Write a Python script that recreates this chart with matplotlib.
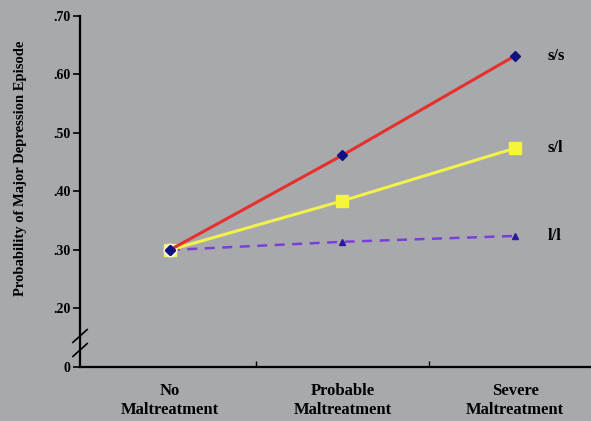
import matplotlib
matplotlib.use("Agg")
import matplotlib.pyplot as plt

categories = ["No\nMaltreatment", "Probable\nMaltreatment", "Severe\nMaltreatment"]
series_names = ["s/s", "s/l", "l/l"]
ss_values = [0.30, 0.462, 0.632]
sl_values = [0.30, 0.384, 0.474]
ll_values = [0.30, 0.314, 0.324]
ytick_values = [0.10, 0.20, 0.30, 0.40, 0.50, 0.60, 0.70]
ytick_labels = ["0", ".20", ".30", ".40", ".50", ".60", ".70"]

bg = "#a8a9ad"
plt.rcParams['font.family'] = ['Liberation Serif', 'DejaVu Serif']

fig = plt.figure(figsize=(5.91, 4.21), dpi=100, facecolor=bg)
ax = fig.add_axes([0.1354, 0.1283, 0.8646, 0.8337])
ax.set_facecolor(bg)

x = list(range(len(categories)))
ax.plot(x, ll_values, color="#7a3fd6", lw=1.8, ls=(0, (4, 3)), marker="^",
        markersize=5, markerfacecolor="#2a1a9a", markeredgecolor="#2a1a9a", zorder=3)
ax.plot(x, sl_values, color="#f2f24a", lw=2.2, marker="s", markersize=8,
        markerfacecolor="#f5f53a", markeredgecolor="#f5f53a", zorder=4)
ax.plot(x, ss_values, color="#e5302c", lw=2.2, marker="D", markersize=5,
        markerfacecolor="#101080", markeredgecolor="#101080", zorder=5)
ax.plot([x[0]], [ss_values[0]], marker="o", markersize=9, color="#f4f4e0", zorder=4.5, alpha=0.9)
ax.plot([x[0]], [ss_values[0]], marker="D", markersize=5, color="#101080", zorder=6)

ends = [ss_values[-1], sl_values[-1], ll_values[-1]]
for name, yv in zip(series_names, ends):
    ax.text(2.19, yv, name, fontsize=12, fontweight="bold", va="center", ha="left")

ax.set_xlim(-0.52, 2.44)
ax.set_ylim(0.10, 0.70)
ax.set_yticks(ytick_values)
ax.set_yticklabels(ytick_labels, fontsize=10, fontweight="bold")
ax.set_xticks([0.5, 1.5])
ax.set_xticklabels([])
ax.tick_params(axis="x", direction="in", length=4, width=1)
ax.tick_params(axis="y", direction="out", length=5, width=1.2, pad=2)
for i, c in enumerate(categories):
    ax.text(i, -0.045, c, transform=ax.get_xaxis_transform(), ha="center", va="top",
            fontsize=12, fontweight="bold", linespacing=1.3)

for s in ["top", "right"]:
    ax.spines[s].set_visible(False)
for s in ["left", "bottom"]:
    ax.spines[s].set_linewidth(1.6)
    ax.spines[s].set_color("black")

# axis break marks
for yb in [0.153, 0.129]:
    ax.plot([-0.014, 0.014], [yb - 0.011, yb + 0.011], transform=ax.get_yaxis_transform(),
            color="black", lw=1.2, clip_on=False)

fig.text(0.034, 0.60, "Probability of Major Depression Episode", rotation=90,
         ha="center", va="center", fontsize=10.5, fontweight="bold")

fig.savefig("out.png", dpi=100, facecolor=bg)
